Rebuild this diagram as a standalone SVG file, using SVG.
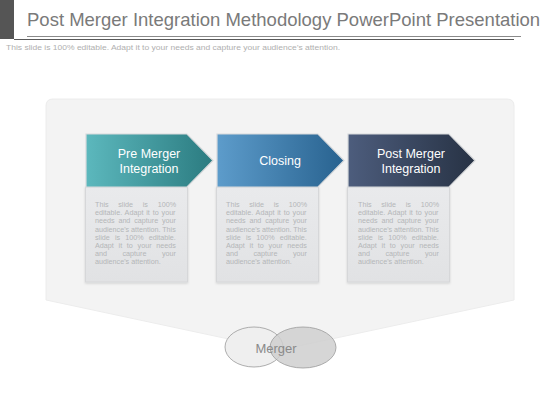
<svg xmlns="http://www.w3.org/2000/svg" width="560" height="420" viewBox="0 0 560 420">
<style>
.title{font-family:"Liberation Sans",Arial,sans-serif;font-size:18.5px;fill:#7a7a7a}
.sub{font-family:"Liberation Sans",Arial,sans-serif;font-size:7.5px;fill:#b0b0b0}
.head{font-family:"Liberation Sans",Arial,sans-serif;font-size:12.5px;fill:#ffffff;text-anchor:middle}
.body{font-family:"Liberation Sans",Arial,sans-serif;font-size:7.2px;fill:#b4b6b8}
.box{fill:url(#gBody);stroke:#d6d7d9;stroke-width:1}
.arrow{stroke:#d8dadc;stroke-width:1.2}
.merge{font-family:"Liberation Sans",Arial,sans-serif;font-size:13px;fill:#8a8a8a;text-anchor:middle}
.w1{word-spacing:7.7px}.w2{word-spacing:0.85px}.w3{word-spacing:1.8px}.w4{word-spacing:-0.2px}
.w5{word-spacing:3.1px}.w6{word-spacing:2.75px}.w7{word-spacing:13.5px}
</style>
<defs>
<linearGradient id="gTeal" x1="0" y1="0" x2="1" y2="0"><stop offset="0" stop-color="#5cb8bd"/><stop offset="1" stop-color="#2b7b80"/></linearGradient>
<linearGradient id="gBlue" x1="0" y1="0" x2="1" y2="0"><stop offset="0" stop-color="#5d9ccb"/><stop offset="1" stop-color="#28628f"/></linearGradient>
<linearGradient id="gNavy" x1="0" y1="0" x2="1" y2="0"><stop offset="0" stop-color="#4d5d7d"/><stop offset="1" stop-color="#273244"/></linearGradient>
<linearGradient id="gBody" x1="0" y1="0" x2="0" y2="1"><stop offset="0" stop-color="#e9eaec"/><stop offset="1" stop-color="#e1e2e4"/></linearGradient>
<filter id="sh" x="-10%" y="-10%" width="120%" height="120%"><feDropShadow dx="0" dy="1" stdDeviation="1.2" flood-color="#000" flood-opacity="0.15"/></filter>
</defs>
<rect width="560" height="420" fill="#ffffff"/>
<g id="header">
<rect x="0" y="0" width="14" height="39" fill="#555555"/>
<text class="title" x="27" y="26">Post Merger Integration Methodology PowerPoint Presentation</text>
<line x1="27" y1="36.5" x2="521" y2="36.5" stroke="#8a8a8a" stroke-width="1"/>
<line x1="14" y1="39.5" x2="514" y2="39.5" stroke="#5a5a5a" stroke-width="1.2"/>
<text class="sub" x="6" y="49.5" textLength="334" lengthAdjust="spacingAndGlyphs">This slide is 100% editable. Adapt it to your needs and capture your audience’s attention.</text>
</g>
<g id="panel">
<path d="M46,106 Q46,99 53,99 L507,99 Q514,99 514,106 L514,300 L280,350 L46,300 Z" fill="#f3f3f3" stroke="#ececec" stroke-width="1"/>
</g>
<g id="connectors"></g>
<g id="card1">
<rect class="box" x="85.5" y="187" width="102" height="95" filter="url(#sh)"/>
<path class="arrow" d="M86,134 L187,134 L213,160.5 L187,187 L86,187 Z" fill="url(#gTeal)"/>
<text class="head" x="149" y="158">Pre Merger</text>
<text class="head" x="149" y="173">Integration</text>
<g class="body">
<text class="w1" x="95" y="207">This slide is 100%</text>
<text class="w2" x="95" y="215.2">editable. Adapt it to your</text>
<text class="w3" x="95" y="223.4">needs and capture your</text>
<text class="w4" x="95" y="231.6">audience's attention. This</text>
<text class="w5" x="95" y="239.8">slide is 100% editable.</text>
<text class="w6" x="95" y="248">Adapt it to your needs</text>
<text class="w7" x="95" y="256.2">and capture your</text>
<text x="95" y="264.4">audience's attention.</text>
</g>
</g>
<g id="card2">
<rect class="box" x="216.5" y="187" width="102" height="95" filter="url(#sh)"/>
<path class="arrow" d="M217,134 L318,134 L344,160.5 L318,187 L217,187 Z" fill="url(#gBlue)"/>
<text class="head" x="280" y="165">Closing</text>
<g class="body">
<text class="w1" x="226" y="207">This slide is 100%</text>
<text class="w2" x="226" y="215.2">editable. Adapt it to your</text>
<text class="w3" x="226" y="223.4">needs and capture your</text>
<text class="w4" x="226" y="231.6">audience's attention. This</text>
<text class="w5" x="226" y="239.8">slide is 100% editable.</text>
<text class="w6" x="226" y="248">Adapt it to your needs</text>
<text class="w7" x="226" y="256.2">and capture your</text>
<text x="226" y="264.4">audience's attention.</text>
</g>
</g>
<g id="card3">
<rect class="box" x="347.5" y="187" width="102" height="95" filter="url(#sh)"/>
<path class="arrow" d="M348,134 L449,134 L475,160.5 L449,187 L348,187 Z" fill="url(#gNavy)"/>
<text class="head" x="411" y="158">Post Merger</text>
<text class="head" x="411" y="173">Integration</text>
<g class="body">
<text class="w1" x="358" y="207">This slide is 100%</text>
<text class="w2" x="358" y="215.2">editable. Adapt it to your</text>
<text class="w3" x="358" y="223.4">needs and capture your</text>
<text class="w4" x="358" y="231.6">audience's attention. This</text>
<text class="w5" x="358" y="239.8">slide is 100% editable.</text>
<text class="w6" x="358" y="248">Adapt it to your needs</text>
<text class="w7" x="358" y="256.2">and capture your</text>
<text x="358" y="264.4">audience's attention.</text>
</g>
</g>
<g id="merger">
<ellipse cx="254" cy="347" rx="29" ry="20" fill="#efefef" stroke="#9a9a9a" stroke-width="0.8"/>
<ellipse cx="303" cy="347.5" rx="33" ry="20.5" fill="#cfcfcf" fill-opacity="0.85" stroke="#9a9a9a" stroke-width="0.8"/>
<text class="merge" x="276" y="352.5">Merger</text>
</g>
</svg>
